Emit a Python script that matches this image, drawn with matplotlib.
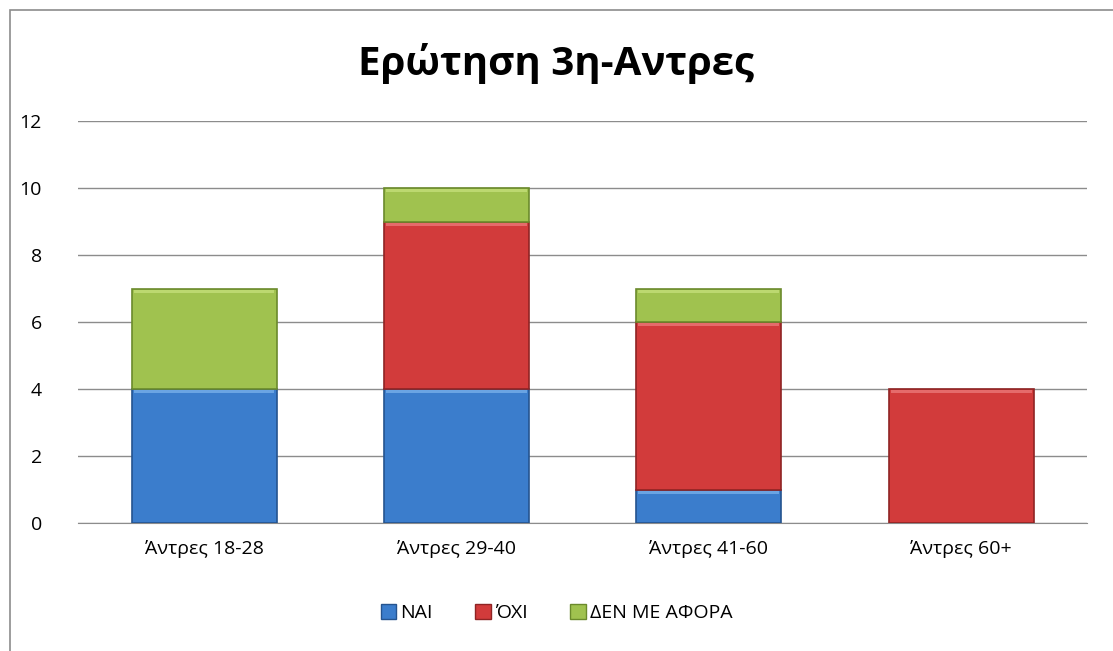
import matplotlib
matplotlib.use("Agg")
import matplotlib.pyplot as plt
from matplotlib.patches import Rectangle, Patch
import numpy as np

plt.rcParams["font.family"] = ["Open Sans", "DejaVu Sans"]

title = "Ερώτηση 3η-Αντρες"
categories = ["Άντρες 18-28", "Άντρες 29-40", "Άντρες 41-60", "Άντρες 60+"]
series_names = ["ΝΑΙ", "ΌΧΙ", "ΔΕΝ ΜΕ ΑΦΟΡΑ"]
nai = [4, 4, 1, 0]
oxi = [0, 5, 5, 4]
den_me_afora = [3, 1, 1, 0]
yticks = [0, 2, 4, 6, 8, 10, 12]

colors = ["#3b7dcc", "#d23b3b", "#a0c24f"]
edges = ["#25548f", "#8f2424", "#6b8a2c"]
highlights = ["#7fb6ee", "#ee8080", "#c8e27f"]

fig = plt.figure(figsize=(11.13, 6.51), dpi=100)
ax = fig.add_axes([0.070, 0.1966, 0.907, 0.6175])

# chart frame
fig.patches.append(Rectangle((0.009, -0.05), 1.05, 1.035, transform=fig.transFigure,
                             fill=False, edgecolor="#8c8c8c", linewidth=1.2))

x = np.arange(len(categories))
width = 0.575
bottom = np.zeros(len(categories))
for vals, c, e, h in zip([nai, oxi, den_me_afora], colors, edges, highlights):
    vals = np.array(vals, dtype=float)
    mask = vals > 0
    ax.bar(x[mask], vals[mask], width, bottom=bottom[mask], color=c, edgecolor=e,
           linewidth=1.2, zorder=3)
    # light bevel along the top of each segment
    ax.bar(x[mask], 0.09, width * 0.97, bottom=(bottom + vals)[mask] - 0.13,
           color=h, linewidth=0, alpha=0.7, zorder=4)
    bottom += vals

ax.set_xlim(-0.5, len(categories) - 0.5)
ax.set_ylim(0, 12)
ax.set_yticks(yticks)
ax.set_xticks(x)
ax.set_xticklabels(categories, fontsize=14)
ax.tick_params(axis="y", labelsize=14, length=0, pad=26)
ax.tick_params(axis="x", length=0, pad=12)
ax.yaxis.grid(True, color="#8c8c8c", linewidth=1.0, zorder=0)
ax.set_axisbelow(True)
for s in ["top", "right", "left"]:
    ax.spines[s].set_visible(False)
ax.spines["bottom"].set_color("#8c8c8c")

fig.text(0.5, 0.903, title, ha="center", va="center", fontsize=29, fontweight="bold")

handles = [Patch(facecolor=c, edgecolor=e) for c, e in zip(colors, edges)]
fig.legend(handles, series_names, loc="center", bbox_to_anchor=(0.5, 0.058), ncol=3,
           frameon=False, fontsize=14, handlelength=0.8, handleheight=0.8,
           handletextpad=0.2, columnspacing=2.2)

fig.savefig("out.png", dpi=100)
